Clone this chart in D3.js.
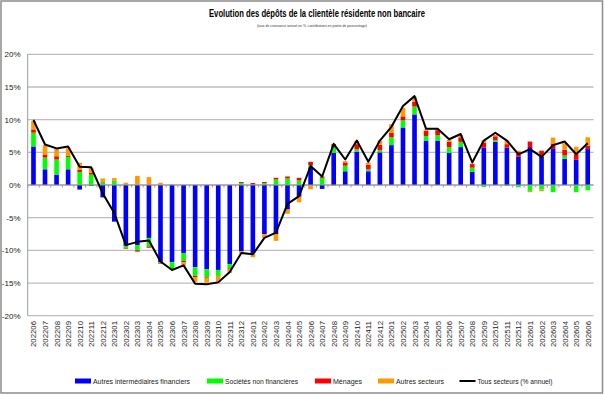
<!DOCTYPE html>
<html>
<head>
<meta charset="utf-8">
<script src="https://cdn.jsdelivr.net/npm/d3@7"></script>
<style>
  body { margin: 0; background: #fff; }
  svg { display: block; font-family: "Liberation Sans", Arial, sans-serif; }
</style>
</head>
<body>
<div id="chart"></div>
<script>
// months shown on the x axis
const months = [
  "202206", "202207", "202208", "202209", "202210", "202211", "202212",
  "202301", "202302", "202303", "202304", "202305", "202306", "202307",
  "202308", "202309", "202310", "202311", "202312",
  "202401", "202402", "202403", "202404", "202405", "202406", "202407",
  "202408", "202409", "202410", "202411", "202412",
  "202501", "202502", "202503", "202504", "202505", "202506", "202507",
  "202508", "202509", "202510", "202511", "202512",
  "202601", "202602", "202603", "202604", "202605", "202606"
];

// contributions (points de pourcentage)
const autres_if = [
  5.9, 2.4, 1.6, 2.4, -0.7, -0.1, -1.9,
  -5.6, -9.3, -9.2, -8.1, -11.8, -11.8, -10.4,
  -12.6, -12.9, -13.0, -12.1, -10.1,
  -10.4, -7.5, -7.5, -3.75, -1.8, 2.7, -0.6,
  4.9, 2.1, 5.1, 2.1, 5.0,
  6.1, 8.8, 10.8, 6.8, 6.8, 4.9, 5.8,
  2.0, 5.7, 6.6, 5.7, 4.3,
  5.8, 4.3, 5.5, 4.0, 3.85, 5.5
];
const snf = [
  2.1, 1.8, 2.3, 1.9, 2.0, 1.6, 0.4,
  0.6, -0.35, -0.8, -1.3, -0.15, -1.1, -1.2,
  -1.3, -1.2, -0.9, -0.65, 0.3,
  0.1, 0.3, 0.85, 1.0, 0.7, 0.35, 1.1,
  0.85, 0.85, 0.35, 0.3, 0.35,
  1.2, 1.1, 1.2, 0.7, 0.8, 0.9, 0.8,
  0.65, -0.3, 0.25, -0.15, -0.35,
  -0.9, -0.7, -1.1, 0.5, -1.1, -0.8
];
const menages = [
  0.5, 0.4, 0.5, 0.2, 0.3, 0.25, 0.1,
  0.05, -0.1, -0.2, -0.2, -0.1, -0.1, -0.25,
  -0.2, -0.1, -0.1, -0.1, 0.15,
  0.2, 0.15, 0.25, 0.3, 0.4, 0.5, 0.2,
  0.5, 0.5, 0.8, 0.7, 0.8,
  0.7, 0.6, 0.75, 0.8, 0.8, 0.8, 0.7,
  0.55, 0.75, 0.6, 0.55, 0.75,
  0.85, 0.95, 0.85, 0.9, 0.85, 0.5
];
const autres_secteurs = [
  1.3, 1.5, 1.2, 1.2, 1.1, 0.75, 0.5,
  0.4, 0.35, 1.4, 1.2, 0.35, 0.1, -0.5,
  -0.75, -0.75, -0.85, -0.6, -0.35,
  -0.65, -0.6, -1.05, -0.65, -0.85, -0.65, 0.1,
  -0.15, 0.2, 0.5, 0.3, 0.65,
  1.3, 1.3, 0.75, 0.2, 0.15, 0.3, 0.35,
  0.1, 0.4, 0.25, 0.55, 0.2,
  -0.2, -0.25, 0.9, 1.0, 1.15, 1.3
];
// total (% annuel)
const tous_secteurs = [
  9.95, 6.2, 5.6, 5.9, 2.8, 2.7, -1.3,
  -4.3, -9.2, -8.7, -8.5, -11.7, -13.0, -12.3,
  -15.1, -15.2, -14.9, -13.3, -10.4,
  -10.6, -8.1, -7.3, -2.9, -1.7, 2.9, 1.3,
  6.3, 3.9, 6.8, 3.55, 6.8,
  8.9, 12.1, 13.6, 8.6, 8.6, 7.0, 7.8,
  3.45, 6.8, 8.0, 6.8, 4.7,
  5.5, 4.3, 6.1, 6.65, 4.7, 6.4
];

const y_ticks = [-20, -15, -10, -5, 0, 5, 10, 15, 20];

const series = [
  { key: "aif", name: "Autres intermédiaires financiers", color: "#0000ff", values: autres_if },
  { key: "snf", name: "Sociétés non financières", color: "#00ff00", values: snf },
  { key: "men", name: "Ménages", color: "#ff0000", values: menages },
  { key: "aut", name: "Autres secteurs", color: "#ff9900", values: autres_secteurs }
];

const width = 604, height = 395;
const margin = { left: 27.7, right: 10.5, top: 54.3, bottom: 79.3 };

const svg = d3.select("#chart").append("svg")
  .attr("width", width)
  .attr("height", height);

// outer frame
svg.append("rect")
  .attr("x", 1).attr("y", 1)
  .attr("width", width - 2.5).attr("height", height - 3)
  .attr("fill", "#fff")
  .attr("stroke", "#8c8c8c")
  .attr("stroke-width", 1.5);

// titles
svg.append("text")
  .attr("x", 317).attr("y", 17)
  .attr("text-anchor", "middle")
  .attr("font-family", "'Liberation Sans Narrow', 'Liberation Sans', Arial")
  .attr("font-weight", "bold")
  .attr("font-size", 11.5)
  .attr("textLength", 216)
  .attr("lengthAdjust", "spacingAndGlyphs")
  .attr("fill", "#000")
  .text("Evolution des dépôts de la clientèle résidente non bancaire");

svg.append("text")
  .attr("x", 312).attr("y", 27)
  .attr("text-anchor", "middle")
  .attr("font-size", 4)
  .attr("textLength", 110)
  .attr("lengthAdjust", "spacingAndGlyphs")
  .attr("fill", "#333")
  .text("(taux de croissance annuel en %, contributions en points de pourcentage)");

const x = d3.scaleBand()
  .domain(months)
  .range([margin.left, width - margin.right])
  .paddingInner(0.6)
  .paddingOuter(0.3);

const y = d3.scaleLinear()
  .domain([-20, 20])
  .range([height - margin.bottom, margin.top]);

// horizontal grid
svg.append("g")
  .selectAll("line")
  .data(y_ticks)
  .join("line")
  .attr("x1", margin.left)
  .attr("x2", width - margin.right)
  .attr("y1", (d) => y(d))
  .attr("y2", (d) => y(d))
  .attr("stroke", "#bdbdbd")
  .attr("stroke-width", 1.3);

// y labels
svg.append("g")
  .selectAll("text")
  .data(y_ticks)
  .join("text")
  .attr("x", 20.5)
  .attr("y", (d) => y(d) + 3)
  .attr("text-anchor", "end")
  .attr("font-size", 8)
  .attr("fill", "#222")
  .text((d) => d + "%");

// left axis line
svg.append("line")
  .attr("x1", margin.left).attr("x2", margin.left)
  .attr("y1", y(20)).attr("y2", y(-20))
  .attr("stroke", "#9a9a9a")
  .attr("stroke-width", 1);

// stacked bars, positives up and negatives down
const table = months.map(function (m, i) {
  const row = { month: m };
  series.forEach((s) => (row[s.key] = s.values[i]));
  return row;
});

const stacked = d3.stack()
  .keys(series.map((s) => s.key))
  .offset(d3.stackOffsetDiverging)(table);

svg.append("g")
  .selectAll("g")
  .data(stacked)
  .join("g")
  .attr("fill", (d, i) => series[i].color)
  .selectAll("rect")
  .data((d) => d)
  .join("rect")
  .attr("x", (d) => x(d.data.month))
  .attr("width", x.bandwidth())
  .attr("y", (d) => y(Math.max(d[0], d[1])))
  .attr("height", (d) => Math.abs(y(d[0]) - y(d[1])));

// zero axis with category ticks
const y0 = y(0);
svg.append("line")
  .attr("x1", margin.left).attr("x2", width - margin.right)
  .attr("y1", y0).attr("y2", y0)
  .attr("stroke", "#9a9a9a")
  .attr("stroke-width", 1);

svg.append("g")
  .selectAll("line")
  .data(months)
  .join("line")
  .attr("x1", (d) => x(d) - x.step() * 0.3)
  .attr("x2", (d) => x(d) - x.step() * 0.3)
  .attr("y1", y0)
  .attr("y2", y0 + 2.5)
  .attr("stroke", "#9a9a9a")
  .attr("stroke-width", 1);

// total line
const line = d3.line()
  .x((d, i) => x(months[i]) + x.bandwidth() / 2)
  .y((d) => y(d));

svg.append("path")
  .datum(tous_secteurs)
  .attr("d", line)
  .attr("fill", "none")
  .attr("stroke", "#000")
  .attr("stroke-width", 2)
  .attr("stroke-linejoin", "round");

// rotated month labels
svg.append("g")
  .selectAll("text")
  .data(months)
  .join("text")
  .attr("transform", (d) =>
    "translate(" + (x(d) + x.bandwidth() / 2 + 3) + "," + 347 + ") rotate(-90)")
  .attr("font-size", 8)
  .attr("textLength", 26)
  .attr("lengthAdjust", "spacingAndGlyphs")
  .attr("fill", "#222")
  .text((d) => d);

// legend
const legend_items = [
  { name: series[0].name, color: series[0].color, x: 75, w: 97 },
  { name: series[1].name, color: series[1].color, x: 207, w: 73 },
  { name: series[2].name, color: series[2].color, x: 315, w: 29 },
  { name: series[3].name, color: series[3].color, x: 378, w: 48 },
  { name: "Tous secteurs (% annuel)", color: "#000", x: 459.5, w: 75, is_line: true }
];

const leg = svg.append("g")
  .selectAll("g")
  .data(legend_items)
  .join("g")
  .attr("transform", (d) => "translate(" + d.x + ",381)");

leg.append("rect")
  .attr("x", 0)
  .attr("y", (d) => (d.is_line ? -1 : -2.5))
  .attr("width", 16)
  .attr("height", (d) => (d.is_line ? 2 : 5))
  .attr("fill", (d) => d.color);

leg.append("text")
  .attr("x", 18)
  .attr("y", 3)
  .attr("font-size", 8)
  .attr("textLength", (d) => d.w)
  .attr("lengthAdjust", "spacingAndGlyphs")
  .attr("fill", "#222")
  .text((d) => d.name);
</script>
</body>
</html>
